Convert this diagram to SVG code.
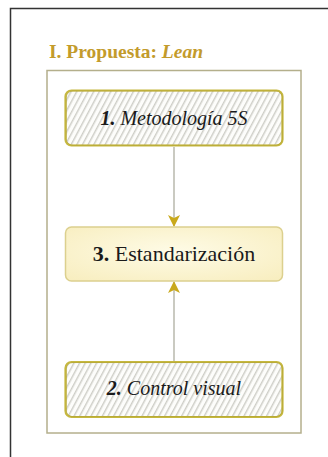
<svg xmlns="http://www.w3.org/2000/svg" width="328" height="457" viewBox="0 0 328 457">
  <defs>
    <!-- diagonal hatch used by the two input steps -->
    <pattern id="hatch" patternUnits="userSpaceOnUse" width="5" height="6" patternTransform="rotate(28)">
      <rect width="5" height="6" fill="#fdfdfb"/>
      <line x1="0.8" y1="0" x2="0.8" y2="6" stroke="#bebeb6" stroke-width="1.1"/>
    </pattern>
    <radialGradient id="warm" cx="0.5" cy="0.45" r="0.7">
      <stop offset="0" stop-color="#fefbe6"/>
      <stop offset="1" stop-color="#f8eec0"/>
    </radialGradient>
    <marker id="arrow" viewBox="0 0 12 12" refX="11" refY="6" markerWidth="12" markerHeight="12" markerUnits="userSpaceOnUse" orient="auto">
      <path d="M0,0 L12,6 L0,12 L3,6 Z" fill="#c9a91c"/>
    </marker>
    <style>
      .title { font-family: "Liberation Serif", "Times New Roman", serif; font-weight: bold; font-size: 19.5px; fill: #c39b2c; }
      .label { font-family: "Liberation Serif", "Times New Roman", serif; font-size: 20px; fill: #1a1a1a; text-anchor: middle; }
      .label.big { font-size: 22px; }
      .hatched { fill: url(#hatch); stroke: #c6b840; stroke-width: 2.2; }
      .sketch { fill: none; stroke: #a89a2a; stroke-width: 0.8; opacity: 0.6; }
      .solid { fill: url(#warm); stroke: #dcd08e; stroke-width: 1.5; }
      .edge { stroke: #b9b9ac; stroke-width: 1.5; fill: none; }
    </style>
  </defs>

  <rect width="328" height="457" fill="#ffffff"/>

  <!-- page frame -->
  <path d="M10.5,457 V8.5 H328" fill="none" stroke="#333333" stroke-width="1.5"/>

  <!-- section heading -->
  <text class="title" x="49" y="58">I. Propuesta: <tspan font-style="italic">Lean</tspan></text>

  <!-- container -->
  <rect x="47" y="70.5" width="254" height="362.5" fill="none" stroke="#b4af8c" stroke-width="1.5"/>

  <!-- connectors -->
  <g id="connectors">
    <line class="edge" x1="174" y1="147" x2="174" y2="226" marker-end="url(#arrow)"/>
    <line class="edge" x1="174" y1="361" x2="174" y2="282" marker-end="url(#arrow)"/>
  </g>

  <g id="node-metodologia">
    <rect class="hatched" x="65.5" y="90.5" width="217" height="55" rx="6"/>
    <rect class="sketch" x="66.3" y="91" width="216" height="54.2" rx="6.5"/>
    <text class="label" x="174" y="125" font-style="italic"><tspan font-weight="bold">1.</tspan> Metodología 5S</text>
  </g>

  <g id="node-estandarizacion">
    <rect class="solid" x="65.5" y="227" width="217" height="54" rx="6"/>
    <text class="label big" x="174" y="261"><tspan font-weight="bold">3.</tspan> Estandarización</text>
  </g>

  <g id="node-control">
    <rect class="hatched" x="65.5" y="362" width="217" height="55" rx="6"/>
    <rect class="sketch" x="66.3" y="362.6" width="216" height="54" rx="6.5"/>
    <text class="label" x="174" y="395" font-style="italic"><tspan font-weight="bold">2.</tspan> Control visual</text>
  </g>
</svg>
